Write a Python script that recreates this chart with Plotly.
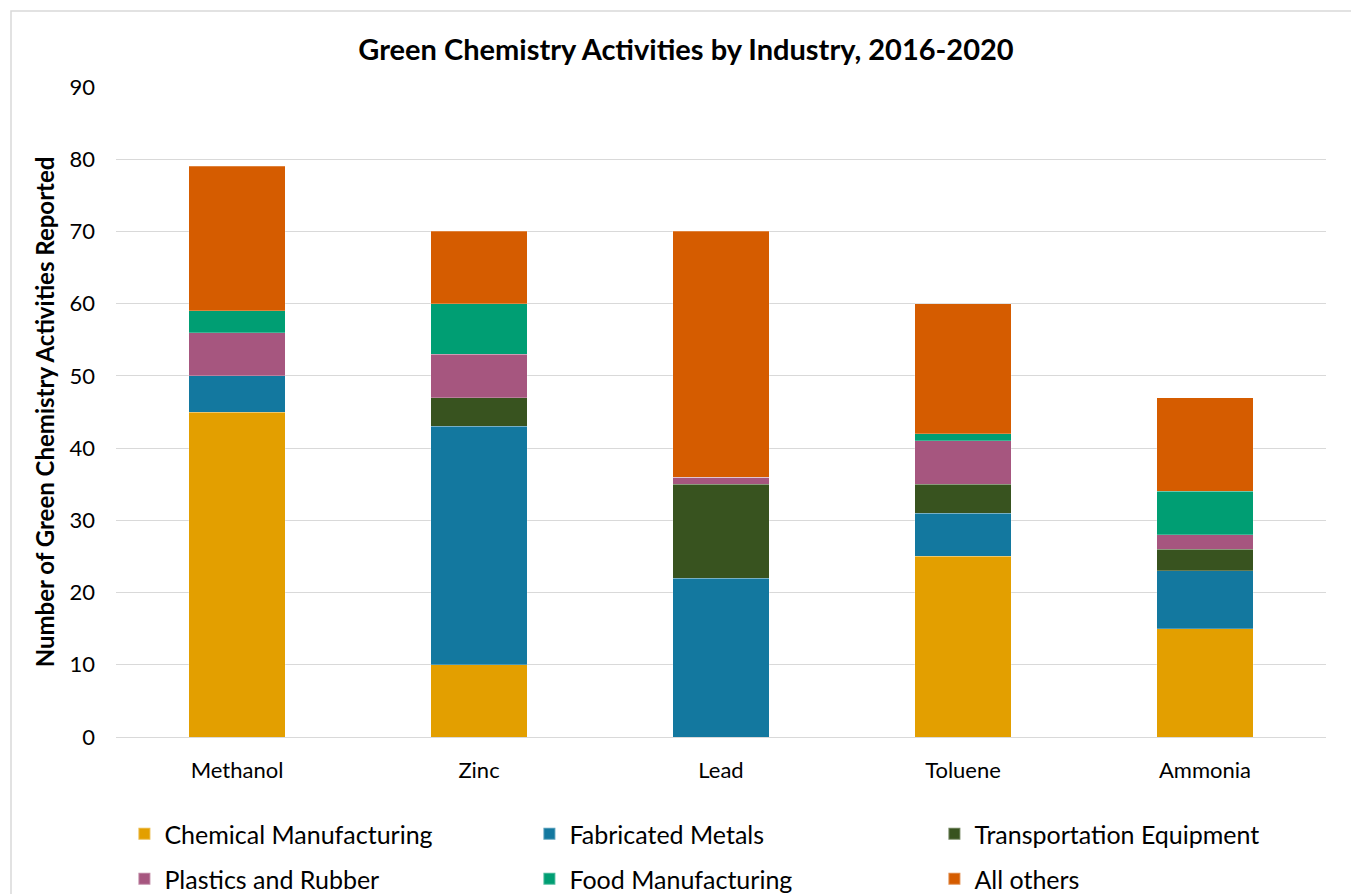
import plotly.graph_objects as go

# Chemicals on the x axis
chemicals = ["Methanol", "Zinc", "Lead", "Toluene", "Ammonia"]

# Green chemistry activities reported per industry, one list per industry
chemical_manufacturing = [45, 10, 0, 25, 15]
fabricated_metals = [5, 33, 22, 6, 8]
transportation_equipment = [0, 4, 13, 4, 3]
plastics_and_rubber = [6, 6, 1, 6, 2]
food_manufacturing = [3, 7, 0, 1, 6]
all_others = [20, 10, 34, 18, 13]

series_names = [
    "Chemical Manufacturing",
    "Fabricated Metals",
    "Transportation Equipment",
    "Plastics and Rubber",
    "Food Manufacturing",
    "All others",
]
series_values = [
    chemical_manufacturing,
    fabricated_metals,
    transportation_equipment,
    plastics_and_rubber,
    food_manufacturing,
    all_others,
]
series_colors = ["#E39F00", "#13789F", "#38531F", "#A6567F", "#009E73", "#D55C00"]
# first three industries in the top legend row, the rest in the second
legend_rows = ["legend", "legend", "legend", "legend2", "legend2", "legend2"]

y_ticks = [0, 10, 20, 30, 40, 50, 60, 70, 80, 90]

FONT = "Lato"

fig = go.Figure()
for name, vals, color, lg in zip(series_names, series_values, series_colors, legend_rows):
    fig.add_trace(
        go.Bar(
            name=name,
            x=chemicals,
            y=vals,
            legend=lg,
            marker=dict(color=color, line=dict(color="rgba(255,255,255,0.3)", width=0.8)),
        )
    )

W, H = 1351, 894
left, right, top, bottom = 116, 25, 87, 157
pw, ph = W - left - right, H - top - bottom

legend_style = dict(
    orientation="h",
    xref="paper",
    x=-0.0005,
    xanchor="left",
    yref="paper",
    yanchor="top",
    traceorder="normal",
    indentation=9,
    entrywidth=351,
    entrywidthmode="pixels",
    font=dict(family=FONT, size=25, color="#000000"),
    itemsizing="constant",
    bgcolor="rgba(0,0,0,0)",
)

fig.update_layout(
    width=W,
    height=H,
    barmode="stack",
    bargap=0.6,
    paper_bgcolor="white",
    plot_bgcolor="white",
    margin=dict(l=left, r=right, t=top, b=bottom, autoexpand=False),
    font=dict(family=FONT, color="#000000"),
    title=dict(
        text="<b>Green Chemistry Activities by Industry, 2016-2020</b>",
        x=686 / W,
        xanchor="center",
        xref="container",
        y=1 - 50 / H,
        yanchor="middle",
        yref="container",
        font=dict(family=FONT, size=29, color="#000000"),
    ),
    xaxis=dict(
        showgrid=False,
        showline=False,
        ticks="",
        ticklabelstandoff=18,
        tickfont=dict(family=FONT, size=22, color="#000000"),
    ),
    yaxis=dict(
        range=[0, 90],
        tickvals=y_ticks,
        showgrid=True,
        gridcolor="#D9D9D9",
        gridwidth=1.3,
        zeroline=True,
        zerolinecolor="#D9D9D9",
        zerolinewidth=1.3,
        showline=False,
        ticks="",
        ticklabelstandoff=20,
        tickfont=dict(family=FONT, size=22, color="#000000"),
        title=dict(
            text="<b>Number of Green Chemistry Activities Reported</b>",
            font=dict(family=FONT, size=24, color="#000000"),
            standoff=8,
        ),
    ),
    legend=dict(legend_style, y=-(811 - (H - bottom)) / ph),
    legend2=dict(legend_style, y=-(856 - (H - bottom)) / ph),
    showlegend=True,
)

# Light outer frame around the chart area
fig.add_shape(
    type="rect",
    xref="paper",
    yref="paper",
    x0=(11 - left) / pw,
    x1=1.2,
    y0=-0.5,
    y1=(H - bottom - 11) / ph,
    line=dict(color="#D9D9D9", width=1.5),
    fillcolor="rgba(0,0,0,0)",
    layer="below",
)

fig.write_html("out.html")
